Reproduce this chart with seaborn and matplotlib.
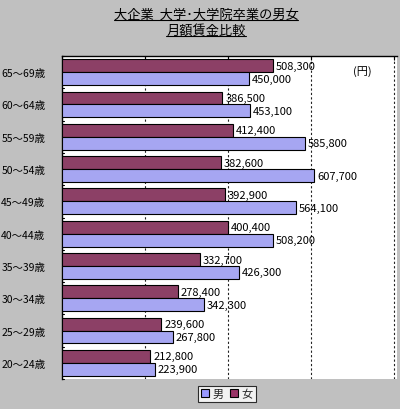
import matplotlib
matplotlib.use("Agg")
import matplotlib.pyplot as plt
import seaborn as sns
import pandas as pd
from matplotlib.patches import Patch
from matplotlib.lines import Line2D

categories = ["65～69歳", "60～64歳", "55～59歳", "50～54歳", "45～49歳",
              "40～44歳", "35～39歳", "30～34歳", "25～29歳", "20～24歳"]
female = [508300, 386500, 412400, 382600, 392900, 400400, 332700, 278400, 239600, 212800]
male = [450000, 453100, 585800, 607700, 564100, 508200, 426300, 342300, 267800, 223900]
series_names = ["女", "男"]
title_lines = ["大企業  大学･大学院卒業の男女", "月額賃金比較"]
unit_label = "(円)"

df = pd.DataFrame({
    "age": categories * 2,
    "value": female + male,
    "sex": [series_names[0]] * len(categories) + [series_names[1]] * len(categories),
})

sns.set_theme(style="white")
plt.rcParams["font.family"] = ["Noto Sans CJK JP", "DejaVu Sans"]

BG = "#C0C0C0"
colors = {"女": "#993366", "男": "#9999FF"}

fig = plt.figure(figsize=(4.0, 4.1), dpi=100, facecolor=BG)
ax = fig.add_axes([62 / 400, 1 - 380 / 410, 335 / 400, (380 - 57) / 410])
ax.set_facecolor("white")

sns.barplot(data=df, y="age", x="value", hue="sex", hue_order=series_names,
            order=categories, palette=colors, orient="h", width=0.8,
            edgecolor="black", linewidth=0.8, ax=ax, legend=False, zorder=3)

ax.set_xlim(0, 807200)
ax.set_xticks([200000, 400000, 600000, 800000])
ax.set_xticklabels([])
ax.set_xlabel("")
ax.set_ylabel("")
ax.xaxis.tick_top()
ax.tick_params(axis="x", which="both", top=True, bottom=False, direction="in",
               length=3, width=0.8, color="black", labeltop=False)
ax.grid(axis="x", color="#222222", linestyle=(0, (2, 2)), linewidth=0.8, zorder=0)
ax.set_axisbelow(True)

ax.tick_params(axis="y", left=False, labelsize=7.5, pad=6, labelcolor="black")

# small group-boundary tick marks on the category axis
for b in [i + 0.5 for i in range(-1, len(categories))]:
    ax.plot([0, 5000], [b, b], color="black", lw=0.8, zorder=4, clip_on=False)
ax.set_ylim(len(categories) - 0.5, -0.5)

for s in ["right", "bottom"]:
    ax.spines[s].set_visible(False)
for s in ["left", "top"]:
    ax.spines[s].set_color("black")
    ax.spines[s].set_linewidth(1.0)

for cont in ax.containers:
    ax.bar_label(cont, labels=[f"{int(v):,}" for v in cont.datavalues],
                 padding=2, fontsize=8, color="black")

ax.text(0.895, 0.955, unit_label, transform=ax.transAxes, fontsize=8,
        ha="center", va="center", color="black")

# Title with underline
t1 = fig.text(0.515, 1 - 15 / 410, title_lines[0], ha="center", va="center",
              fontsize=9.5, color="black")
t2 = fig.text(0.515, 1 - 31 / 410, title_lines[1], ha="center", va="center",
              fontsize=9.5, color="black")
fig.canvas.draw()
renderer = fig.canvas.get_renderer()
for t in (t1, t2):
    bb = t.get_window_extent(renderer).transformed(fig.transFigure.inverted())
    fig.add_artist(Line2D([bb.x0, bb.x1], [bb.y0 + 0.002, bb.y0 + 0.002],
                          transform=fig.transFigure, color="black", lw=0.8))

handles = [Patch(facecolor=colors["男"], edgecolor="black", linewidth=0.8, label="男"),
           Patch(facecolor=colors["女"], edgecolor="black", linewidth=0.8, label="女")]
leg = fig.legend(handles=handles, loc="center", bbox_to_anchor=(227 / 400, 1 - 395 / 410),
                 ncol=2, frameon=True, fontsize=8, handlelength=0.7, handleheight=0.7,
                 handletextpad=0.3, columnspacing=0.6, borderpad=0.3, fancybox=False)
leg.get_frame().set_edgecolor("black")
leg.get_frame().set_linewidth(0.8)
leg.get_frame().set_facecolor("white")

fig.savefig("out.png", dpi=100, facecolor=BG)
